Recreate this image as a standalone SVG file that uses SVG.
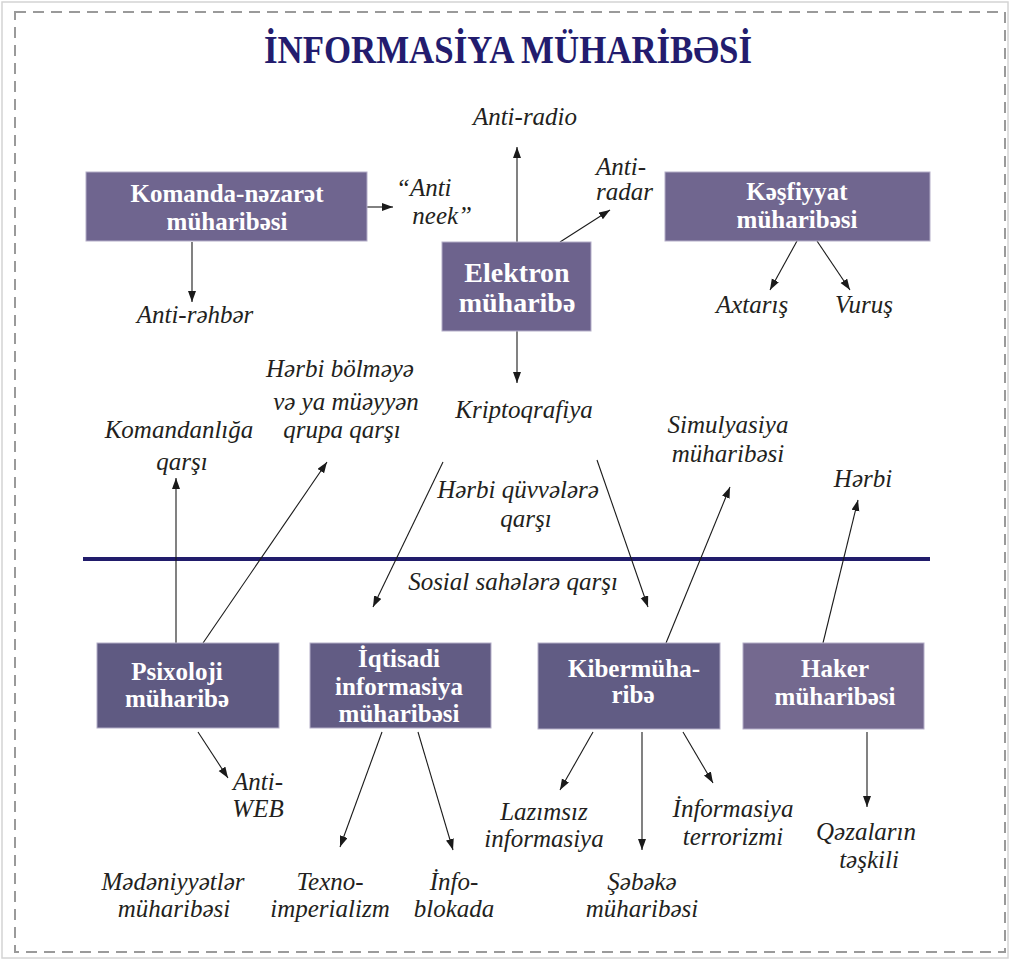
<svg xmlns="http://www.w3.org/2000/svg" width="1010" height="960" viewBox="0 0 1010 960">
<defs>
<marker id="ah" markerUnits="userSpaceOnUse" markerWidth="12" markerHeight="9" refX="11" refY="4" orient="auto">
<path d="M0,0 L11,4 L0,8 z" fill="#1a1a1a"/>
</marker>
<style>
.box{stroke:#b4aec8;stroke-width:1}
.bt{font-family:"Liberation Serif",serif;font-weight:bold;font-size:25px;fill:#ffffff;text-anchor:middle}
.lb{font-family:"Liberation Serif",serif;font-style:italic;font-size:25px;fill:#231f20;text-anchor:middle}
.cn{stroke:#1a1a1a;stroke-width:1.1;fill:none}
.ar{marker-end:url(#ah)}
</style>
</defs>
<rect x="0" y="0" width="1010" height="960" fill="#ffffff"/>
<rect x="2" y="2" width="1006" height="956" fill="none" stroke="#d4d4d4" stroke-width="1.5"/>
<rect x="15" y="12" width="990" height="940" fill="none" stroke="#9a9a9a" stroke-width="2" stroke-dasharray="11 7"/>
<text x="508" y="63" font-family="Liberation Serif, serif" font-weight="bold" font-size="40" fill="#231c6e" text-anchor="middle" textLength="488" lengthAdjust="spacingAndGlyphs">İNFORMASİYA MÜHARİBƏSİ</text>
<line x1="83" y1="559" x2="930" y2="559" stroke="#211c6b" stroke-width="4"/>

<g id="connectors">
<line class="cn ar" x1="367" y1="207" x2="393" y2="207"/>
<line class="cn ar" x1="192" y1="242" x2="192" y2="302"/>
<line class="cn ar" x1="517" y1="242" x2="517" y2="147"/>
<line class="cn ar" x1="560" y1="242" x2="610" y2="210"/>
<line class="cn ar" x1="517" y1="331" x2="517" y2="383"/>
<line class="cn ar" x1="797" y1="241" x2="770" y2="290"/>
<line class="cn ar" x1="817" y1="241" x2="850" y2="290"/>
<line class="cn ar" x1="176" y1="643" x2="176" y2="478"/>
<line class="cn ar" x1="203" y1="643" x2="327" y2="462"/>
<line class="cn ar" x1="443" y1="462" x2="373" y2="607"/>
<line class="cn ar" x1="597" y1="460" x2="648" y2="607"/>
<line class="cn ar" x1="666" y1="643" x2="730" y2="487"/>
<line class="cn ar" x1="823" y1="643" x2="858" y2="500"/>
<line class="cn ar" x1="198" y1="732" x2="228" y2="778"/>
<line class="cn ar" x1="382" y1="732" x2="340" y2="847"/>
<line class="cn ar" x1="418" y1="732" x2="453" y2="850"/>
<line class="cn ar" x1="593" y1="732" x2="560" y2="790"/>
<line class="cn ar" x1="642" y1="732" x2="642" y2="850"/>
<line class="cn ar" x1="683" y1="732" x2="713" y2="783"/>
<line class="cn ar" x1="867" y1="732" x2="867" y2="807"/>
</g>

<g id="komanda">
<rect class="box" x="86" y="172" width="281" height="69" fill="#6f658f"/>
<text class="bt" x="227" y="202">Komanda-nəzarət</text>
<text class="bt" x="227" y="230">müharibəsi</text>
</g>
<g id="elektron">
<rect class="box" x="442" y="242" width="149" height="89" fill="#6d638d"/>
<text class="bt" x="517" y="282" style="font-size:28px">Elektron</text>
<text class="bt" x="517" y="312" style="font-size:28px">müharibə</text>
</g>
<g id="kesfiyyat">
<rect class="box" x="665" y="172" width="265" height="69" fill="#70668f"/>
<text class="bt" x="797" y="200">Kəşfiyyat</text>
<text class="bt" x="797" y="228">müharibəsi</text>
</g>
<g id="psixoloji">
<rect class="box" x="97" y="643" width="182" height="85" fill="#5f5a82"/>
<text class="bt" x="177" y="680">Psixoloji</text>
<text class="bt" x="177" y="707">müharibə</text>
</g>
<g id="iqtisadi">
<rect class="box" x="310" y="643" width="181" height="85" fill="#625c84"/>
<text class="bt" x="399" y="667">İqtisadi</text>
<text class="bt" x="399" y="695">informasiya</text>
<text class="bt" x="399" y="722">müharibəsi</text>
</g>
<g id="kiber">
<rect class="box" x="538" y="643" width="182" height="86" fill="#615c84"/>
<text class="bt" x="634" y="677">Kibermüha-</text>
<text class="bt" x="633" y="703">ribə</text>
</g>
<g id="haker">
<rect class="box" x="743" y="643" width="181" height="86" fill="#74698f"/>
<text class="bt" x="835" y="677">Haker</text>
<text class="bt" x="835" y="705">müharibəsi</text>
</g>

<g id="labels">
<text class="lb" x="525" y="125">Anti-radio</text>
<text class="lb" x="596" y="175" style="text-anchor:start">Anti-</text>
<text class="lb" x="596" y="200" style="text-anchor:start">radar</text>
<text class="lb" x="396" y="196" style="text-anchor:start">“Anti</text>
<text class="lb" x="472" y="224" style="text-anchor:end">neek”</text>
<text class="lb" x="195" y="323">Anti-rəhbər</text>
<text class="lb" x="752" y="313">Axtarış</text>
<text class="lb" x="864" y="313">Vuruş</text>
<text class="lb" x="524" y="418">Kriptoqrafiya</text>
<text class="lb" x="340" y="377">Hərbi bölməyə</text>
<text class="lb" x="346" y="410">və ya müəyyən</text>
<text class="lb" x="342" y="438">qrupa qarşı</text>
<text class="lb" x="179" y="438">Komandanlığa</text>
<text class="lb" x="182" y="470">qarşı</text>
<text class="lb" x="728" y="433">Simulyasiya</text>
<text class="lb" x="728" y="462">müharibəsi</text>
<text class="lb" x="863" y="487">Hərbi</text>
<text class="lb" x="518" y="498">Hərbi qüvvələrə</text>
<text class="lb" x="526" y="527">qarşı</text>
<text class="lb" x="513" y="590">Sosial sahələrə qarşı</text>
<text class="lb" x="258" y="790">Anti-</text>
<text class="lb" x="258" y="817">WEB</text>
<text class="lb" x="544" y="820">Lazımsız</text>
<text class="lb" x="544" y="847">informasiya</text>
<text class="lb" x="733" y="817">İnformasiya</text>
<text class="lb" x="733" y="845">terrorizmi</text>
<text class="lb" x="866" y="840">Qəzaların</text>
<text class="lb" x="869" y="868">təşkili</text>
<text class="lb" x="173" y="890">Mədəniyyətlər</text>
<text class="lb" x="174" y="917">müharibəsi</text>
<text class="lb" x="330" y="890">Texno-</text>
<text class="lb" x="330" y="917">imperializm</text>
<text class="lb" x="454" y="890">İnfo-</text>
<text class="lb" x="454" y="917">blokada</text>
<text class="lb" x="642" y="890">Şəbəkə</text>
<text class="lb" x="642" y="917">müharibəsi</text>
</g>
</svg>
